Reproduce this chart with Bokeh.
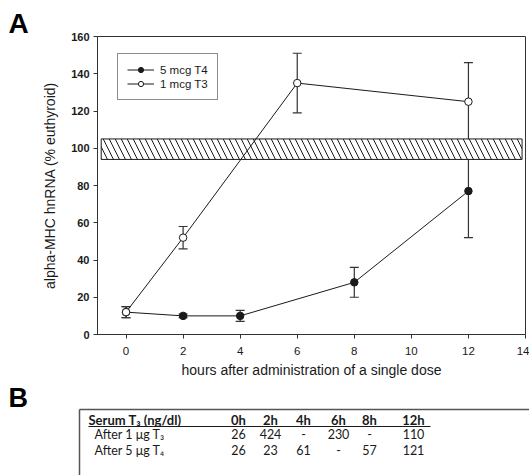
from bokeh.plotting import figure
from bokeh.models import (Range1d, FixedTicker, Whisker, TeeHead, ColumnDataSource,
                          Legend, LegendItem, Title)
from bokeh.layouts import column, row
from bokeh.embed import file_html
from bokeh.resources import INLINE
from bokeh.core.properties import value

# ---------------- data (panel A) ----------------
hours_t4 = [0, 2, 4, 8, 12]
alpha_t4 = [12, 10, 10, 28, 77]
sem_t4 = [3, 1, 3, 8, 25]

hours_t3 = [0, 2, 6, 12]
alpha_t3 = [12, 52, 135, 125]
sem_t3 = [3, 6, 16, 21]

euthyroid_range = [94, 105]
euthyroid_hours = [-0.87, 13.88]

x_ticks = [0, 2, 4, 6, 8, 10, 12, 14]
y_ticks = [0, 20, 40, 60, 80, 100, 120, 140, 160]

# ---------------- data (panel B table) ----------------
table_header = "Serum T\u2083 (ng/dl)"
time_labels = ["0h", "2h", "4h", "6h", "8h", "12h"]
row_labels = ["After 1 \u03bcg T\u2083", "After 5 \u03bcg T\u2084"]
row_after_t3 = ["26", "424", "-", "230", "-", "110"]
row_after_t4 = ["26", "23", "61", "-", "57", "121"]

FONT = "Liberation Sans"
TFONT = "Lato"
INK = "#1a1a1a"

# ---------------- panel A ----------------
W = 529
H1 = 380
p = figure(width=W, height=H1, x_range=Range1d(-1, 14), y_range=Range1d(0, 160),
           output_backend="svg", toolbar_location=None, title=None,
           min_border_left=97, min_border_right=4, min_border_top=36, min_border_bottom=46)
p.xgrid.visible = False
p.ygrid.visible = False
p.outline_line_color = "#333333"
p.outline_line_width = 1

for ax in (p.xaxis, p.yaxis):
    ax.axis_line_color = "#333333"
    ax.major_tick_line_color = "#333333"
    ax.minor_tick_line_color = None
    ax.major_tick_in = 0
    ax.major_tick_out = 4
    ax.major_label_text_font = FONT
    ax.major_label_text_color = INK
    ax.axis_label_text_font = FONT
    ax.axis_label_text_font_style = "normal"
    ax.axis_label_text_font_size = "14px"
    ax.axis_label_text_color = INK

p.xaxis.ticker = FixedTicker(ticks=x_ticks)
p.yaxis.ticker = FixedTicker(ticks=y_ticks)
p.xaxis.major_label_text_font_size = "11.5px"
p.yaxis.major_label_text_font_size = "11px"
p.yaxis.major_label_text_font_style = "bold"
p.xaxis.major_label_standoff = 8
p.yaxis.major_label_standoff = 4
p.xaxis.axis_label_standoff = 4
p.yaxis.axis_label_standoff = 10
p.xaxis.axis_label = "hours after administration of a single dose"
p.yaxis.axis_label = "alpha-MHC hnRNA (% euthyroid)"

# euthyroid hatched band
p.quad(left=[euthyroid_hours[0]], right=[euthyroid_hours[1]],
       bottom=[euthyroid_range[0]], top=[euthyroid_range[1]],
       fill_color="white", line_color=INK, line_width=1,
       hatch_pattern="\\", hatch_scale=12, hatch_color=INK, hatch_weight=1)

src4 = ColumnDataSource(dict(x=hours_t4, y=alpha_t4,
                             lo=[a - e for a, e in zip(alpha_t4, sem_t4)],
                             hi=[a + e for a, e in zip(alpha_t4, sem_t4)]))
src3 = ColumnDataSource(dict(x=hours_t3, y=alpha_t3,
                             lo=[a - e for a, e in zip(alpha_t3, sem_t3)],
                             hi=[a + e for a, e in zip(alpha_t3, sem_t3)]))

for s in (src4, src3):
    w = Whisker(base="x", upper="hi", lower="lo", source=s, dimension="height",
                line_color="#333333", line_width=1.2,
                upper_head=TeeHead(size=9, line_color="#333333", line_width=1.2),
                lower_head=TeeHead(size=9, line_color="#333333", line_width=1.2))
    p.add_layout(w)

l4 = p.line("x", "y", source=src4, line_color=INK, line_width=1)
l3 = p.line("x", "y", source=src3, line_color=INK, line_width=1)
m4 = p.scatter("x", "y", source=src4, size=7.5, marker="circle",
               fill_color=INK, line_color=INK)
m3 = p.scatter("x", "y", source=src3, size=7.5, marker="circle",
               fill_color="white", line_color=INK, line_width=1)

legend = Legend(items=[LegendItem(label="5 mcg T4", renderers=[l4, m4]),
                       LegendItem(label="1 mcg T3", renderers=[l3, m3])],
                location=(20, 234), orientation="vertical")
legend.padding = 9
legend.spacing = 1
legend.glyph_width = 27
legend.glyph_height = 13
legend.label_height = 13
legend.label_standoff = 6
legend.label_text_font = FONT
legend.label_text_font_size = "11.5px"
legend.label_text_color = INK
legend.border_line_color = INK
legend.border_line_width = 1
legend.background_fill_color = "white"
legend.background_fill_alpha = 1
p.add_layout(legend)

p.add_layout(Title(text="A", align="left", offset=-89, standoff=-4,
                   text_font=FONT, text_font_size="28px", text_font_style="bold",
                   text_color="black"), "above")

# ---------------- panel B ----------------
H2 = 475 - H1
q = figure(width=W, height=H2, x_range=Range1d(0, W), y_range=Range1d(H2, 0),
           output_backend="svg", toolbar_location=None, min_border=0, title=None,
           x_axis_location=None, y_axis_location=None)
q.outline_line_color = None
q.xgrid.visible = False
q.ygrid.visible = False

# table frame (q-local pixel layout: page y - 380)
q.segment(x0=[79, 79], y0=[29, 29], x1=[W, 79], y1=[29, H2],
          line_color="#555555", line_width=1.5)
# header underline
q.segment(x0=[88], y0=[46], x1=[430], y1=[46], line_color=INK, line_width=1)

col_x = [238, 270, 303, 338, 369, 413]
header_y, row1_y, row2_y = 39, 53.5, 69.5

q.text(x=[8], y=[17], text=["B"], text_font=value(FONT), text_font_size="27px",
       text_font_style="bold", text_color="black", text_align="left",
       text_baseline="middle")
q.text(x=[88], y=[header_y], text=[table_header], text_font=value(TFONT),
       text_font_size="13px", text_font_style="bold", text_color=INK,
       text_align="left", text_baseline="middle")
q.text(x=col_x, y=[header_y] * len(col_x), text=time_labels, text_font=value(TFONT),
       text_font_size="13px", text_font_style="bold", text_color=INK,
       text_align="center", text_baseline="middle")
q.text(x=[94, 94], y=[row1_y, row2_y], text=row_labels, text_font=value(TFONT),
       text_font_size="12.5px", text_color=INK, text_align="left",
       text_baseline="middle")
q.text(x=col_x, y=[row1_y] * len(col_x), text=row_after_t3, text_font=value(TFONT),
       text_font_size="12.5px", text_color=INK, text_align="center",
       text_baseline="middle")
q.text(x=col_x, y=[row2_y] * len(col_x), text=row_after_t4, text_font=value(TFONT),
       text_font_size="12.5px", text_color=INK, text_align="center",
       text_baseline="middle")

layout = column(p, row(q))
open("out.html", "w").write(file_html(layout, INLINE))
